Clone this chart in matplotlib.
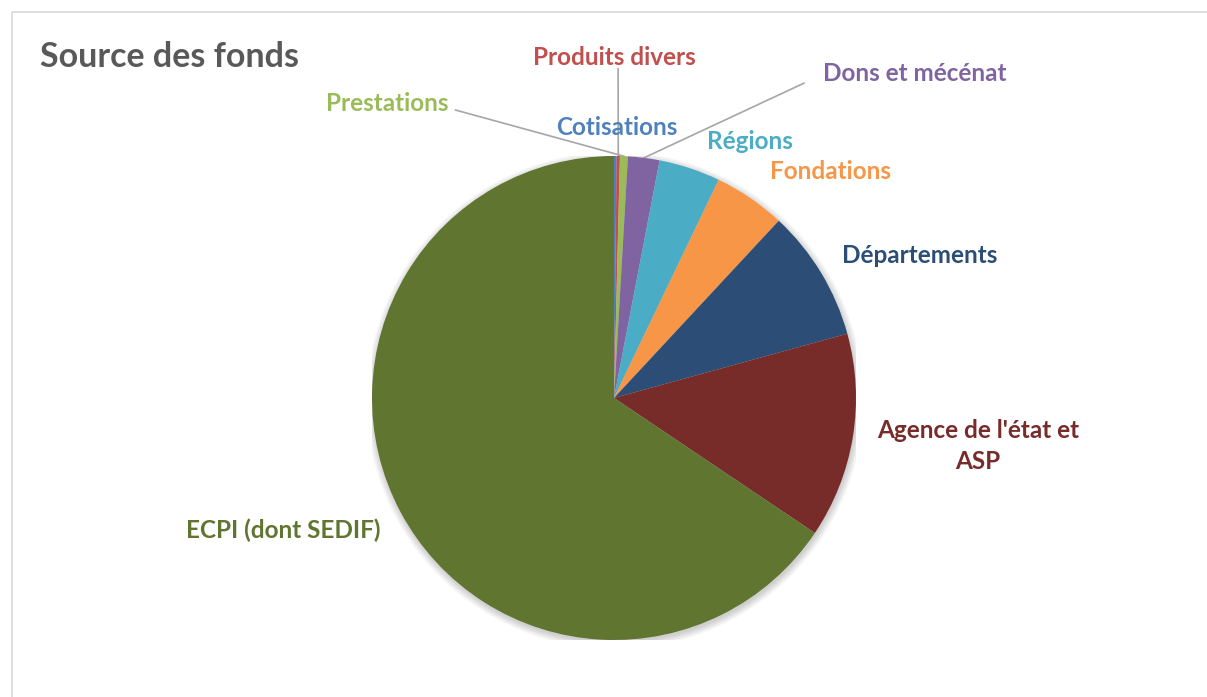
import numpy as np
import matplotlib.pyplot as plt
from matplotlib.patches import Rectangle, Circle

plt.rcParams['font.family'] = ['Lato', 'DejaVu Sans']

# parts of the funding, clockwise from the top
labels = ["Cotisations", "Produits divers", "Prestations", "Dons et mécénat",
          "Régions", "Fondations", "Départements", "Agence de l'état et\nASP",
          "ECPI (dont SEDIF)"]
values = [0.17, 0.22, 0.53, 2.1, 4.1, 4.8, 8.8, 13.7, 65.58]
colors = ["#4F81BD", "#C0504D", "#9BBB59", "#8064A2", "#4BACC6", "#F79646",
          "#2C4D75", "#772C2A", "#5F7530"]

# label placement (data units of the pie axes, radius 1)
label_pos = [(0.01, 1.116), (0.0, 1.405), (-0.938, 1.219), (1.244, 1.339),
             (0.562, 1.058), (0.893, 0.934), (1.264, 0.587), (1.504, -0.198),
             (-1.368, -0.545)]
# labels which get a leader line: (index, start point of the line)
leaders = {1: (0.017, 1.36), 2: (-0.655, 1.19), 3: (0.785, 1.301)}

W, H = 1207, 697
fig = plt.figure(figsize=(W / 100, H / 100), dpi=100)
fig.patches.append(Rectangle((12 / W, -0.1), 1.2, (H - 12) / H + 0.1,
                             transform=fig.transFigure, fill=False,
                             edgecolor="#D9D9D9", linewidth=1.2))

cx, cy, r = 614, 398, 242
ax = fig.add_axes([(cx - r) / W, (H - cy - r) / H, 2 * r / W, 2 * r / H])

# soft shadow behind the pie
for k in range(8):
    ax.add_patch(Circle((0.004, -0.01), 1.0 + 0.004 * k, color="black",
                        alpha=0.025, zorder=0, linewidth=0))

wedges, _ = ax.pie(values, colors=colors, startangle=90, counterclock=False,
                   radius=1, wedgeprops=dict(linewidth=0))
for w in wedges:
    w.set_zorder(2)
ax.set_xlim(-1, 1)
ax.set_ylim(-1, 1)
ax.set_aspect("equal")
ax.axis("off")

for i, (lab, (x, y)) in enumerate(zip(labels, label_pos)):
    ax.text(x, y, lab, ha="center", va="center", color=colors[i], fontsize=17.5,
            fontweight="bold", linespacing=1.4, clip_on=False)
    if i in leaders:
        w = wedges[i]
        mid = np.deg2rad((w.theta1 + w.theta2) / 2)
        ex, ey = np.cos(mid), np.sin(mid)
        sx, sy = leaders[i]
        ax.plot([sx, ex], [sy, ey], color="#A6A6A6", linewidth=1.2,
                clip_on=False, zorder=1)

fig.text(40 / W, 1 - 57 / H, "Source des fonds", ha="left", va="center",
         fontsize=24.5, fontweight="bold", color="#595959")

fig.savefig("out.png", dpi=100)
